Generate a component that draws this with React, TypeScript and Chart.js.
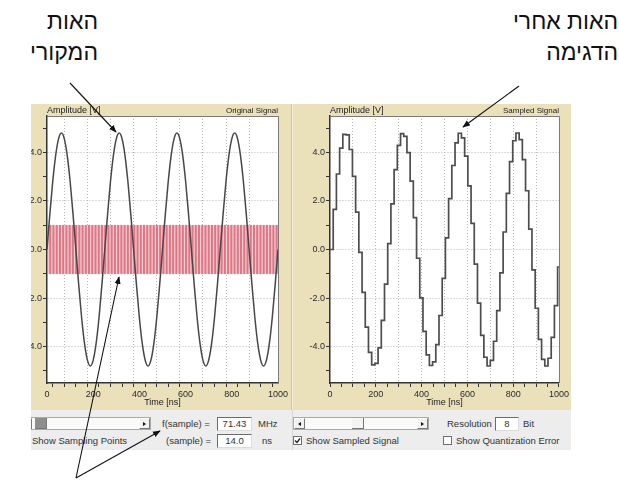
import React, { useEffect, useRef } from 'react';
import { Chart, registerables } from 'chart.js';

Chart.register(...registerables);

const FONT = '"Liberation Sans", Arial, "DejaVu Sans", sans-serif';

// ---------- data ----------
const X_MIN = 0;
const X_MAX = 1000;
const Y_MIN = -5.5;
const Y_MAX = 5.5;
const X_LABEL_VALUES = [0, 200, 400, 600, 800, 1000];
const X_GRID_VALUES = [100, 200, 300, 400, 500, 600, 700, 800, 900];
const Y_TICK_VALUES = [-5, -4, -3, -2, -1, 0, 1, 2, 3, 4, 5];
const Y_LABEL_VALUES = [-4, -2, 0, 2, 4];

const ORIGINAL_TIME_NS = [
  0, 12.5, 25, 37.5, 50, 62.5, 75, 87.5, 100, 112.5, 125, 137.5, 150, 162.5, 175, 187.5, 200, 212.5, 225, 237.5,
  250, 262.5, 275, 287.5, 300, 312.5, 325, 337.5, 350, 362.5, 375, 387.5, 400, 412.5, 425, 437.5, 450, 462.5, 475, 487.5,
  500, 512.5, 525, 537.5, 550, 562.5, 575, 587.5, 600, 612.5, 625, 637.5, 650, 662.5, 675, 687.5, 700, 712.5, 725, 737.5,
  750, 762.5, 775, 787.5, 800, 812.5, 825, 837.5, 850, 862.5, 875, 887.5, 900, 912.5, 925, 937.5, 950, 962.5, 975, 987.5,
  1000,
];
const ORIGINAL_AMPLITUDE_V = [
  0, 1.48, 2.82, 3.88, 4.56, 4.8, 4.56, 3.88, 2.82, 1.48, 0, -1.48, -2.82, -3.88, -4.56, -4.8, -4.56, -3.88, -2.82, -1.48,
  0, 1.48, 2.82, 3.88, 4.56, 4.8, 4.56, 3.88, 2.82, 1.48, 0, -1.48, -2.82, -3.88, -4.56, -4.8, -4.56, -3.88, -2.82, -1.48,
  0, 1.48, 2.82, 3.88, 4.56, 4.8, 4.56, 3.88, 2.82, 1.48, 0, -1.48, -2.82, -3.88, -4.56, -4.8, -4.56, -3.88, -2.82, -1.48,
  0, 1.48, 2.82, 3.88, 4.56, 4.8, 4.56, 3.88, 2.82, 1.48, 0, -1.48, -2.82, -3.88, -4.56, -4.8, -4.56, -3.88, -2.82, -1.48,
  0,
];

const SAMPLE_TIME_NS = [
  0, 14, 28, 42, 56, 70, 84, 98, 112, 126, 140, 154, 168, 182, 196, 210, 224, 238, 252, 266,
  280, 294, 308, 322, 336, 350, 364, 378, 392, 406, 420, 434, 448, 462, 476, 490, 504, 518, 532, 546,
  560, 574, 588, 602, 616, 630, 644, 658, 672, 686, 700, 714, 728, 742, 756, 770, 784, 798, 812, 826,
  840, 854, 868, 882, 896, 910, 924, 938, 952, 966, 980, 994,
];
const SAMPLED_AMPLITUDE_V = [
  0, 1.65, 3.11, 4.18, 4.74, 4.72, 4.12, 3.01, 1.54, -0.12,
  -1.77, -3.2, -4.24, -4.75, -4.69, -4.05, -2.92, -1.43, 0.24, 1.88,
  3.29, 4.29, 4.77, 4.66, 3.99, 2.82, 1.31, -0.36, -1.99, -3.37,
  -4.34, -4.78, -4.63, -3.92, -2.72, -1.19, 0.48, 2.1, 3.46, 4.39,
  4.79, 4.6, 3.85, 2.62, 1.08, -0.6, -2.21, -3.54, -4.44, -4.8,
  -4.57, -3.78, -2.52, -0.96, 0.72, 2.31, 3.62, 4.48, 4.8, 4.53,
  3.7, 2.42, 0.84, -0.84, -2.42, -3.7, -4.53, -4.8, -4.48, -3.62,
  -2.31, -0.72,
];
const MARKER_LOW_V = -1;
const MARKER_HIGH_V = 1;

// ---------- chart helpers ----------
const framePlugin = {
  id: 'plotFrame',
  beforeDraw(chart: any) {
    const { ctx, chartArea } = chart;
    const { left, top, right, bottom } = chartArea;
    ctx.save();
    ctx.fillStyle = '#ffffff';
    ctx.fillRect(left, top, right - left, bottom - top);
    ctx.restore();
  },
  afterDraw(chart: any, _args: any, opts: any) {
    const { ctx, chartArea } = chart;
    const { left, top, right, bottom } = chartArea;
    ctx.save();
    ctx.strokeStyle = '#7a7a7a';
    ctx.lineWidth = 1;
    ctx.beginPath();
    ctx.moveTo(left, top + 0.5);
    ctx.lineTo(right + 0.5, top + 0.5);
    ctx.lineTo(right + 0.5, bottom);
    ctx.stroke();
    ctx.fillStyle = '#222';
    ctx.font = `9px ${FONT}`;
    ctx.textBaseline = 'alphabetic';
    ctx.textAlign = 'left';
    ctx.fillText(opts.leftText || '', left, top - 3);
    ctx.font = `8px ${FONT}`;
    ctx.textAlign = 'right';
    ctx.fillText(opts.rightText || '', right, top - 3);
    ctx.restore();
  },
};

function buildScales(): any {
  return {
    x: {
      type: 'linear',
      min: X_MIN,
      max: X_MAX,
      offset: false,
      afterFit: (s: any) => {
        s.height = 27;
      },
      ticks: {
        stepSize: 50,
        autoSkip: false,
        maxRotation: 0,
        padding: 2,
        color: '#2a2a2a',
        font: { family: FONT, size: 9 },
        callback: (v: any) => (X_LABEL_VALUES.includes(v) ? String(v) : ''),
      },
      grid: {
        color: (c: any) => (c.tick && X_GRID_VALUES.includes(c.tick.value) ? '#b8b8b8' : 'rgba(0,0,0,0)'),
        tickColor: '#333',
        tickLength: 4,
        lineWidth: 1,
      },
      border: { color: '#333', width: 1.5, dash: [1, 2] },
      title: {
        display: true,
        text: 'Time [ns]',
        color: '#222',
        font: { family: FONT, size: 9 },
        padding: { top: 0, bottom: 2 },
      },
    },
    y: {
      type: 'linear',
      min: Y_MIN,
      max: Y_MAX,
      afterBuildTicks: (s: any) => {
        s.ticks = Y_TICK_VALUES.map((v) => ({ value: v }));
      },
      afterFit: (s: any) => {
        s.width = 37;
      },
      ticks: {
        autoSkip: false,
        padding: 1,
        color: '#2a2a2a',
        font: { family: FONT, size: 9 },
        callback: (v: any) => (Y_LABEL_VALUES.includes(v) ? Number(v).toFixed(1) : ''),
      },
      grid: {
        color: (c: any) =>
          c.tick && Y_LABEL_VALUES.includes(c.tick.value) ? '#b8b8b8' : 'rgba(0,0,0,0)',
        tickColor: '#333',
        tickLength: 4,
        lineWidth: 1,
      },
      border: { color: '#333', width: 1.5, dash: [1, 2] },
    },
  };
}

function baseOptions(leftText: string, rightText: string, rightPad: number): any {
  return {
    responsive: false,
    animation: false,
    devicePixelRatio: 1,
    layout: { padding: { top: 12, right: rightPad, left: 0, bottom: 0 } },
    plugins: {
      legend: { display: false },
      tooltip: { enabled: false },
      title: { display: false },
      plotFrame: { leftText, rightText },
    },
    scales: buildScales(),
  };
}

function OriginalChart() {
  const ref = useRef<HTMLCanvasElement>(null);
  useEffect(() => {
    const chart = new Chart(ref.current as HTMLCanvasElement, {
      type: 'line',
      data: {
        datasets: [
          {
            type: 'line',
            label: 'Original Signal',
            data: ORIGINAL_TIME_NS.map((t, i) => ({ x: t, y: ORIGINAL_AMPLITUDE_V[i] })),
            borderColor: '#474747',
            borderWidth: 1.5,
            pointRadius: 0,
            cubicInterpolationMode: 'monotone',
            order: 0,
          } as any,
          {
            type: 'bar',
            label: 'Sampling Points',
            data: SAMPLE_TIME_NS.map((t) => ({ x: t, y: [MARKER_LOW_V, MARKER_HIGH_V] })),
            backgroundColor: '#dd7786',
            barThickness: 1.4,
            grouped: false,
            order: 1,
          } as any,
          {
            type: 'line',
            label: 'Sampling band',
            data: [
              { x: X_MIN, y: MARKER_HIGH_V },
              { x: X_MAX, y: MARKER_HIGH_V },
            ],
            fill: { value: MARKER_LOW_V },
            backgroundColor: '#f5d0d5',
            borderWidth: 0,
            pointRadius: 0,
            order: 2,
          } as any,
        ],
      },
      options: baseOptions('Amplitude [V]', 'Original Signal', 13),
      plugins: [framePlugin as any],
    });
    return () => chart.destroy();
  }, []);
  return <canvas ref={ref} width={281} height={306} style={{ display: 'block', width: 281, height: 306 }} />;
}

function SampledChart() {
  const ref = useRef<HTMLCanvasElement>(null);
  useEffect(() => {
    const pts = SAMPLE_TIME_NS.map((t, i) => ({ x: t, y: SAMPLED_AMPLITUDE_V[i] }));
    pts.push({ x: X_MAX, y: SAMPLED_AMPLITUDE_V[SAMPLED_AMPLITUDE_V.length - 1] });
    const chart = new Chart(ref.current as HTMLCanvasElement, {
      type: 'line',
      data: {
        datasets: [
          {
            label: 'Sampled Signal',
            data: pts,
            stepped: true,
            borderColor: '#4d4d4d',
            borderWidth: 1.7,
            pointRadius: 0,
          } as any,
        ],
      },
      options: baseOptions('Amplitude [V]', 'Sampled Signal', 9),
      plugins: [framePlugin as any],
    });
    return () => chart.destroy();
  }, []);
  return <canvas ref={ref} width={278} height={306} style={{ display: 'block', width: 278, height: 306 }} />;
}

// ---------- UI helpers ----------
const BEIGE = '#eae0ba';
const CTRL_BG = '#ededed';

function Txt({ x, y, children, size = 9.5 }: any) {
  return (
    <div
      style={{
        position: 'absolute',
        left: x,
        top: y - 6,
        height: 12,
        lineHeight: '12px',
        fontFamily: FONT,
        fontSize: size,
        color: '#333',
        whiteSpace: 'nowrap',
      }}
    >
      {children}
    </div>
  );
}

function CheckBox({ x, y, checked }: any) {
  return (
    <div
      style={{
        position: 'absolute',
        left: x,
        top: y,
        width: 9,
        height: 9,
        boxSizing: 'border-box',
        border: '1px solid #707070',
        background: '#fff',
      }}
    >
      {checked && (
        <svg width={7} height={7} style={{ position: 'absolute', left: 0, top: 0 }}>
          <polyline points="1,3.5 3,5.5 6,1.5" fill="none" stroke="#222" strokeWidth={1.3} />
        </svg>
      )}
    </div>
  );
}

function Box({ x, y, w, h, text }: any) {
  return (
    <div
      style={{
        position: 'absolute',
        left: x,
        top: y,
        width: w,
        height: h,
        boxSizing: 'border-box',
        borderTop: '1px solid #6a6a6a',
        borderLeft: '1px solid #6a6a6a',
        borderRight: '1px solid #dcdcdc',
        borderBottom: '1px solid #dcdcdc',
        background: '#fff',
        fontFamily: FONT,
        fontSize: 9.5,
        color: '#333',
        textAlign: 'center',
        lineHeight: `${h - 2}px`,
      }}
    >
      {text}
    </div>
  );
}

function Arrowhead({ dir }: { dir: 'left' | 'right' }) {
  return (
    <div
      style={{
        width: 0,
        height: 0,
        borderTop: '2.5px solid transparent',
        borderBottom: '2.5px solid transparent',
        ...(dir === 'right' ? { borderLeft: '3px solid #111' } : { borderRight: '3px solid #111' }),
      }}
    />
  );
}

function ScrollBar({ x, y, w, thumbX, thumbW, dark }: any) {
  const h = 13;
  const btn = (bx: number, dir: 'left' | 'right') => (
    <div
      style={{
        position: 'absolute',
        left: bx,
        top: 0,
        width: 11,
        height: h - 2,
        boxSizing: 'border-box',
        borderRight: '1px solid #7a7a7a',
        borderBottom: '1px solid #7a7a7a',
        borderLeft: '1px solid #fff',
        borderTop: '1px solid #fff',
        background: '#f1f1f1',
        display: 'flex',
        alignItems: 'center',
        justifyContent: 'center',
      }}
    >
      <Arrowhead dir={dir} />
    </div>
  );
  return (
    <div
      style={{
        position: 'absolute',
        left: x,
        top: y,
        width: w,
        height: h,
        boxSizing: 'border-box',
        border: '1px solid #a9a9a9',
        background: '#fafafa',
      }}
    >
      {btn(0, 'left')}
      <div
        style={{
          position: 'absolute',
          left: thumbX - x - 1,
          top: 0,
          width: thumbW,
          height: h - 2,
          boxSizing: 'border-box',
          background: dark ? '#8f8f8f' : '#f4f4f4',
          borderRight: '1px solid #777',
          borderBottom: '1px solid #777',
        }}
      />
      {btn(w - 13, 'right')}
    </div>
  );
}

// ---------- App ----------
export default function App() {
  const hebrew: React.CSSProperties = {
    position: 'absolute',
    direction: 'rtl',
    textAlign: 'right',
    fontFamily: FONT,
    fontSize: 23,
    lineHeight: '31px',
    color: '#111',
    whiteSpace: 'nowrap',
  };
  return (
    <div
      style={{
        position: 'fixed',
        left: 0,
        top: 0,
        width: 619,
        height: 484,
        overflow: 'hidden',
        background: '#fff',
      }}
    >
      {/* Hebrew annotations */}
      <div style={{ ...hebrew, right: 619 - 98, top: 6 }}>
        האות
        <br />
        המקורי
      </div>
      <div style={{ ...hebrew, right: 1, top: 6 }}>
        האות אחרי
        <br />
        הדגימה
      </div>

      {/* left chart panel */}
      <div
        style={{ position: 'absolute', left: 31, top: 104, width: 260, height: 306, overflow: 'hidden', background: BEIGE }}
      >
        <div style={{ position: 'absolute', left: -21, top: 0, background: BEIGE }}>
          <OriginalChart />
        </div>
      </div>
      {/* divider */}
      <div style={{ position: 'absolute', left: 291, top: 104, width: 1, height: 306, background: '#cbc29e' }} />
      <div style={{ position: 'absolute', left: 292, top: 104, width: 1, height: 306, background: '#f6f1dd' }} />
      {/* right chart panel */}
      <div style={{ position: 'absolute', left: 293, top: 104, width: 278, height: 306, background: BEIGE }}>
        <SampledChart />
      </div>

      {/* control strip */}
      <div
        style={{ position: 'absolute', left: 31, top: 410, width: 540, height: 40, overflow: 'hidden', background: CTRL_BG }}
      >
        <div style={{ position: 'absolute', left: -31, top: -410, width: 619, height: 484 }}>
          <ScrollBar x={20} y={417} w={131} thumbX={35} thumbW={12} dark />
          <CheckBox x={21} y={436} checked />
          <Txt x={32} y={441}>Show Sampling Points</Txt>
          <Txt x={162} y={424}>f(sample) =</Txt>
          <Box x={217} y={417} w={35} h={14} text="71.43" />
          <Txt x={258} y={424}>MHz</Txt>
          <Txt x={166} y={441}>(sample) =</Txt>
          <Box x={217} y={434} w={35} h={14} text="14.0" />
          <Txt x={262} y={441}>ns</Txt>

          <div style={{ position: 'absolute', left: 292, top: 410, width: 1, height: 40, background: '#d6d6d6' }} />
          <ScrollBar x={293} y={417} w={136} thumbX={352} thumbW={12} />
          <CheckBox x={293} y={436} checked />
          <Txt x={306} y={441}>Show Sampled Signal</Txt>
          <Txt x={447} y={424}>Resolution</Txt>
          <Box x={495} y={417} w={24} h={14} text="8" />
          <Txt x={523} y={424}>Bit</Txt>
          <CheckBox x={443} y={436} checked={false} />
          <Txt x={456} y={441}>Show Quantization Error</Txt>
        </div>
      </div>

      {/* arrows */}
      <svg width={619} height={484} style={{ position: 'absolute', left: 0, top: 0, pointerEvents: 'none' }}>
        <defs>
          <marker id="ah" viewBox="0 0 10 10" refX="9" refY="5" markerWidth="7" markerHeight="7" orient="auto">
            <path d="M0,1 L10,5 L0,9 z" fill="#111" />
          </marker>
        </defs>
        <line x1={70} y1={83} x2={116} y2={132} stroke="#111" strokeWidth={1.1} markerEnd="url(#ah)" />
        <line x1={519} y1={86} x2={463} y2={127} stroke="#111" strokeWidth={1.1} markerEnd="url(#ah)" />
        <line x1={76} y1={478} x2={119} y2={277} stroke="#111" strokeWidth={1.1} markerEnd="url(#ah)" />
        <line x1={76} y1={478} x2={160} y2={431} stroke="#111" strokeWidth={1.1} markerEnd="url(#ah)" />
      </svg>
    </div>
  );
}
